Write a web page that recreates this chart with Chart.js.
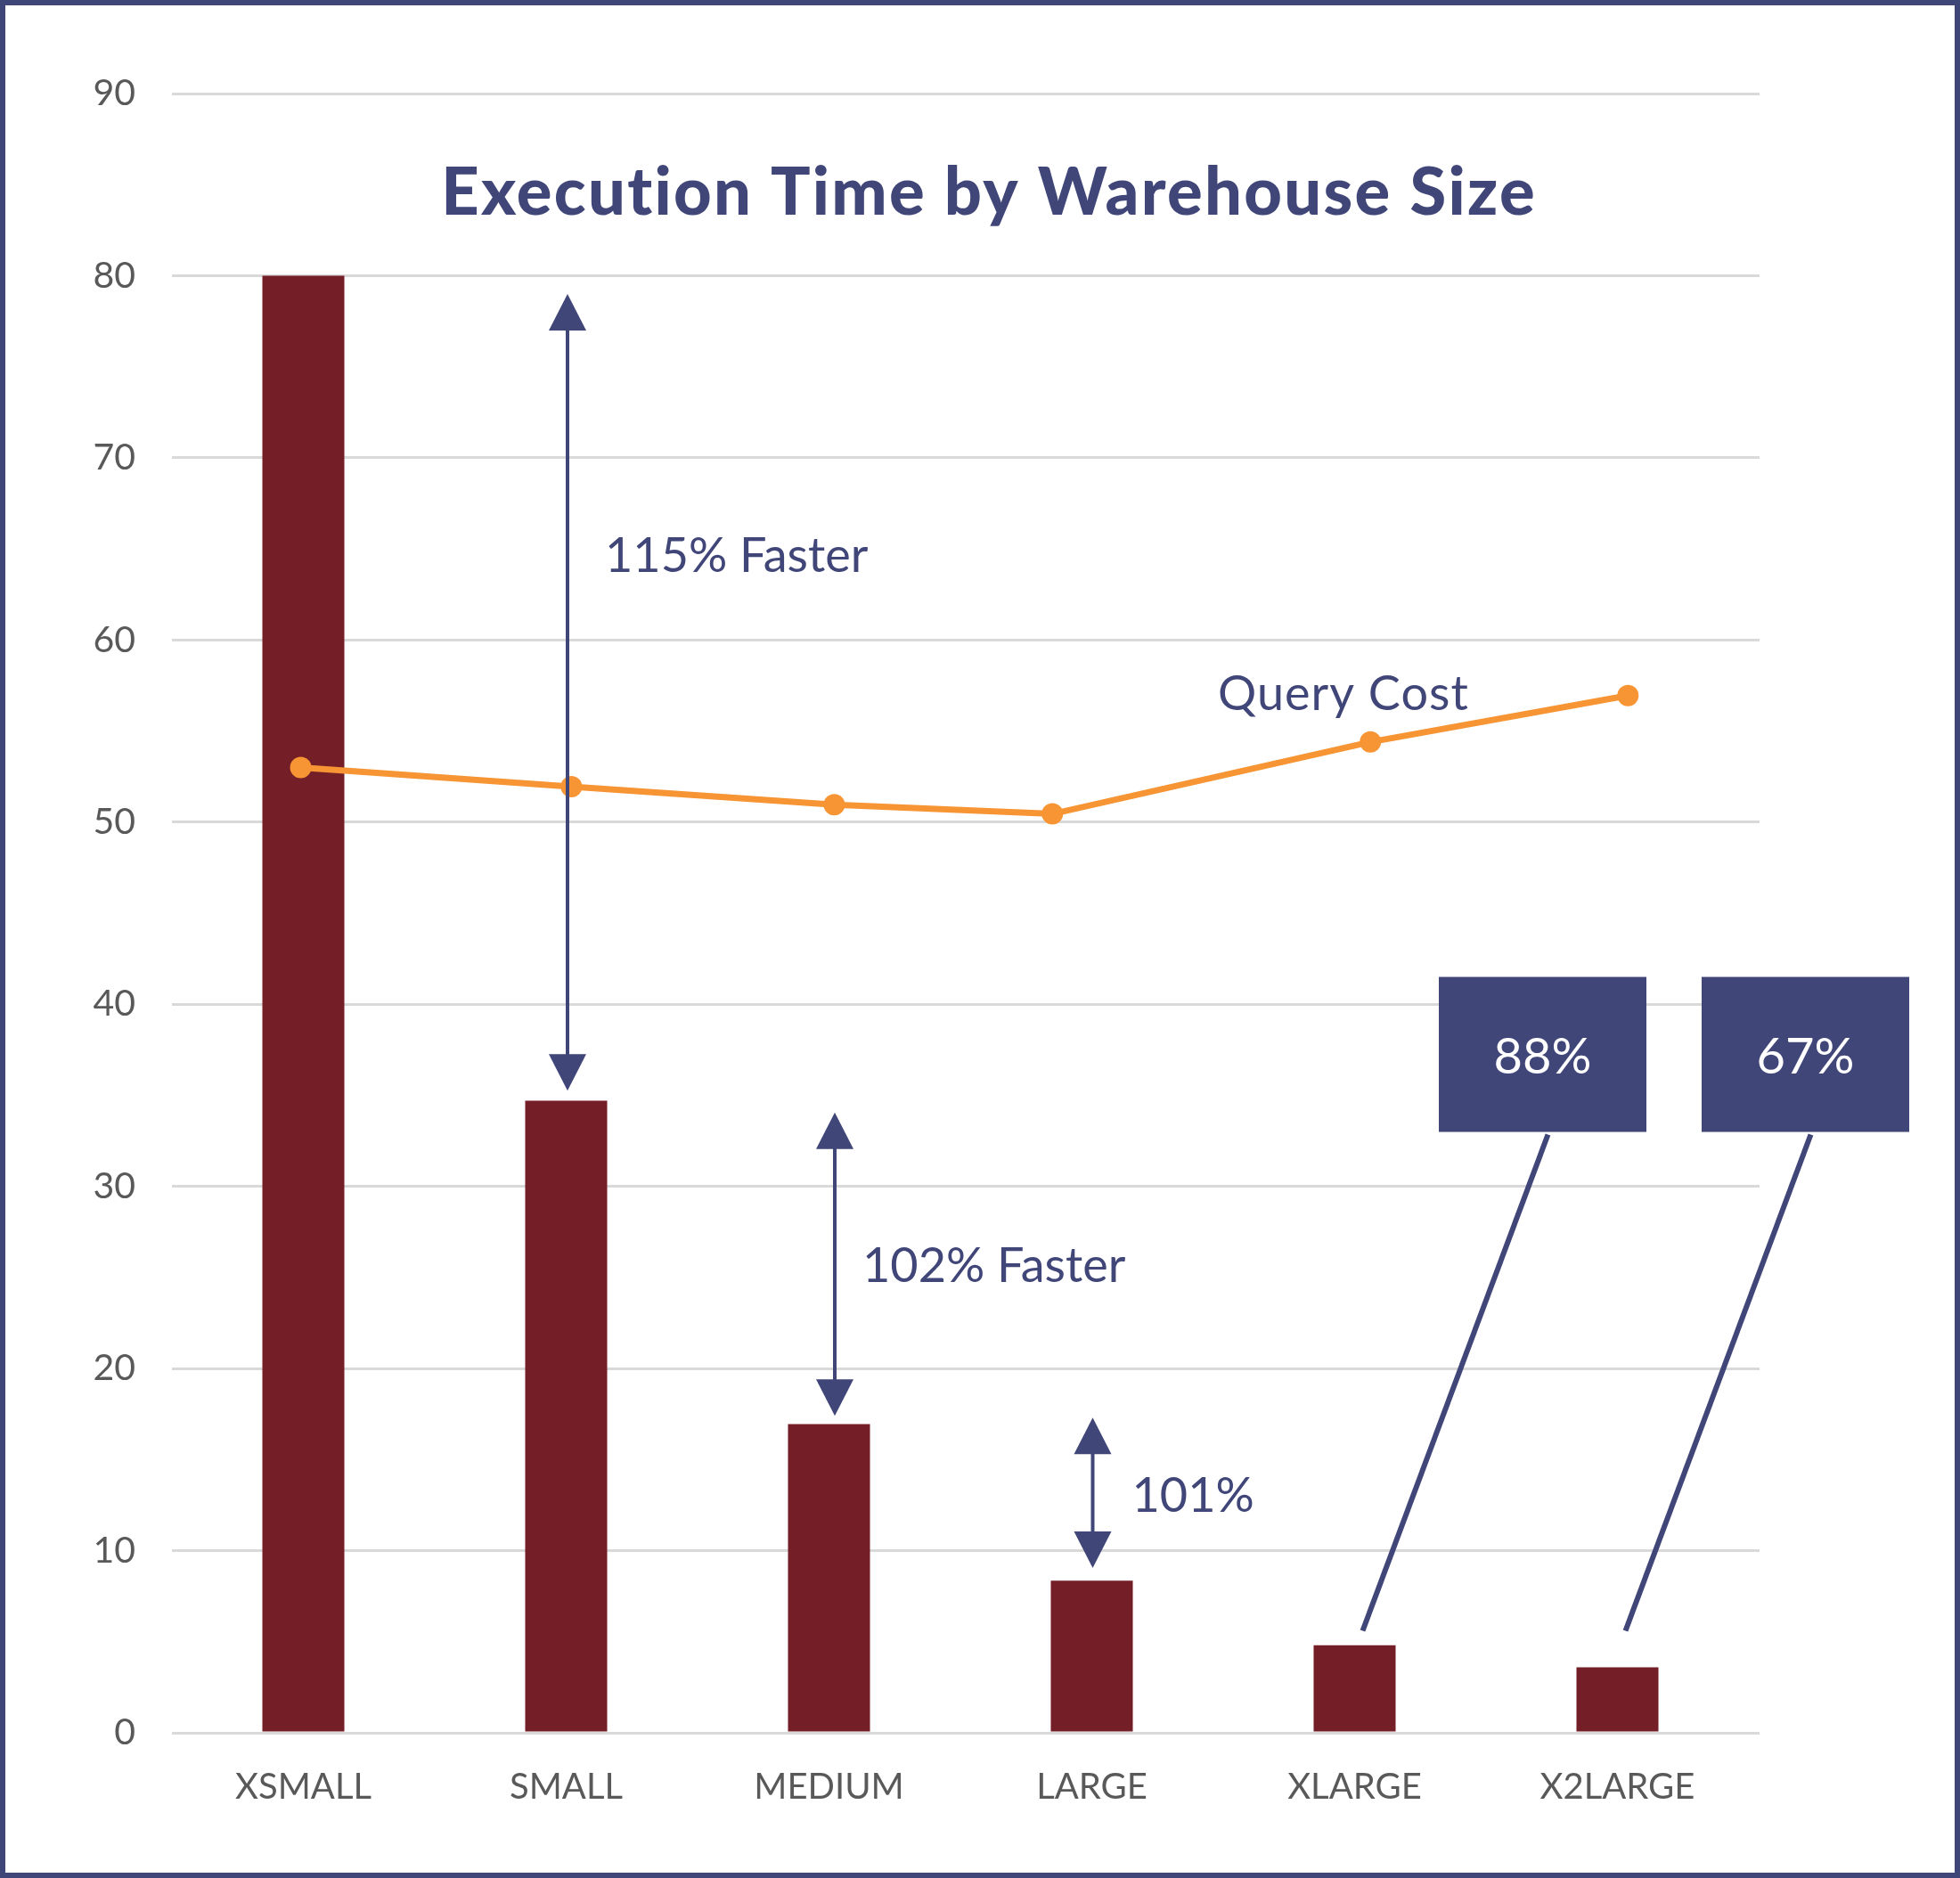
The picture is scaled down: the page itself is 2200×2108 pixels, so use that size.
<!DOCTYPE html>
<html>
<head>
<meta charset="utf-8">
<script src="https://cdn.jsdelivr.net/npm/chart.js@4.4.0/dist/chart.umd.min.js"></script>
<style>
  html, body { margin: 0; padding: 0; background: #ffffff; }
  canvas { display: block; }
</style>
</head>
<body>
<canvas id="chart" width="2200" height="2108"></canvas>
<script>
// ---------------- data ----------------
const chartTitle = 'Execution Time by Warehouse Size';
const categories = ['XSMALL', 'SMALL', 'MEDIUM', 'LARGE', 'XLARGE', 'X2LARGE'];
const executionTime = [80, 34.7, 16.95, 8.35, 4.8, 3.6];
const queryCostLabel = 'Query Cost';
const queryCost = [53.0, 51.95, 50.95, 50.45, 54.4, 56.95];
const queryCostPosition = [-0.01, 1.02, 2.02, 2.85, 4.06, 5.04];   // category units
const queryCostLabelAnchor = [3.48, 56.16];
const yTickMin = 0;
const yTickMax = 90;
const yTickStep = 10;

const speedupLabels = ['115% Faster', '102% Faster', '101%'];
const speedupCategory = [1, 2, 3];
const speedupLow = [35.25, 17.4, 9.05];
const speedupHigh = [79.0, 34.05, 17.3];
const speedupLabelValue = [63.75, 24.73, 12.13];

const calloutLabels = ['88%', '67%'];
const calloutCategory = [4, 5];
const calloutPointerValue = [5.6, 5.6];
const calloutBoxTopValue = [41.5, 41.5];

// ---------------- style ----------------
const NAVY = '#414679';
const BAR = '#741F28';
const ORANGE = '#F79433';
const GRID = '#D9D9D9';
const TICK = '#595959';
const FONT = 'Lato, "Open Sans", sans-serif';

const arrowDx = [1.5, 6.5, 1];
const arrowLabelDx = [42, 31, 44];

function alignPx(p, w) { const h = w / 2; return Math.round(p + h) - h; }

const annotationPlugin = {
  id: 'annotations',
  beforeDatasetsDraw(chart) {
    // gridlines extend slightly past the last category like the source
    const ctx = chart.ctx, y = chart.scales.y, a = chart.chartArea;
    ctx.save();
    ctx.strokeStyle = GRID;
    ctx.lineWidth = 3;
    y.ticks.forEach(t => {
      const py = alignPx(y.getPixelForValue(t.value), 3);
      ctx.beginPath();
      ctx.moveTo(a.right - 2, py);
      ctx.lineTo(a.right + 12, py);
      ctx.stroke();
    });
    ctx.restore();
  },
  afterDatasetsDraw(chart) {
    const ctx = chart.ctx;
    const x = chart.scales.x, xl = chart.scales.xl, y = chart.scales.y;
    ctx.save();

    // double arrows with labels
    const headW = 42, headH = 41;
    speedupLabels.forEach((lab, i) => {
      const px = x.getPixelForValue(speedupCategory[i]) + arrowDx[i];
      const yTop = y.getPixelForValue(speedupHigh[i]);
      const yBot = y.getPixelForValue(speedupLow[i]);
      ctx.strokeStyle = NAVY;
      ctx.fillStyle = NAVY;
      ctx.lineWidth = 4;
      ctx.beginPath();
      ctx.moveTo(px, yTop + headH - 2);
      ctx.lineTo(px, yBot - headH + 2);
      ctx.stroke();
      ctx.beginPath();
      ctx.moveTo(px, yTop);
      ctx.lineTo(px - headW / 2, yTop + headH);
      ctx.lineTo(px + headW / 2, yTop + headH);
      ctx.closePath();
      ctx.fill();
      ctx.beginPath();
      ctx.moveTo(px, yBot);
      ctx.lineTo(px - headW / 2, yBot - headH);
      ctx.lineTo(px + headW / 2, yBot - headH);
      ctx.closePath();
      ctx.fill();
      ctx.font = '400 54px ' + FONT;
      ctx.textAlign = 'left';
      ctx.textBaseline = 'alphabetic';
      ctx.fillText(lab, px + arrowLabelDx[i], y.getPixelForValue(speedupLabelValue[i]));
    });

    // series label
    ctx.font = '400 54px ' + FONT;
    ctx.fillStyle = NAVY;
    ctx.textAlign = 'left';
    if ('letterSpacing' in ctx) ctx.letterSpacing = '1px';
    ctx.fillText(queryCostLabel, xl.getPixelForValue(queryCostLabelAnchor[0]), y.getPixelForValue(queryCostLabelAnchor[1]));
    if ('letterSpacing' in ctx) ctx.letterSpacing = '0px';

    // callout boxes
    const boxW = 233, boxH = 174;
    calloutLabels.forEach((lab, i) => {
      const cx = x.getPixelForValue(calloutCategory[i]);
      const bx = cx + 211;
      const top = y.getPixelForValue(calloutBoxTopValue[i]);
      ctx.fillStyle = NAVY;
      ctx.fillRect(bx - boxW / 2, top, boxW, boxH);
      ctx.strokeStyle = NAVY;
      ctx.lineWidth = 6;
      ctx.beginPath();
      ctx.moveTo(bx + 6, top + boxH + 3);
      ctx.lineTo(cx + 9, y.getPixelForValue(calloutPointerValue[i]));
      ctx.stroke();
      ctx.fillStyle = '#ffffff';
      ctx.font = '400 56px ' + FONT;
      ctx.textAlign = 'center';
      ctx.textBaseline = 'alphabetic';
      ctx.fillText(lab, bx, top + boxH / 2 + 21);
    });
    ctx.restore();
  },
  afterDraw(chart) {
    const ctx = chart.ctx;
    ctx.save();
    ctx.fillStyle = NAVY;
    ctx.font = '900 74px ' + FONT;
    ctx.textAlign = 'center';
    ctx.textBaseline = 'alphabetic';
    if ('letterSpacing' in ctx) ctx.letterSpacing = '2.3px';
    ctx.fillText(chartTitle, 1110, 241);
    if ('letterSpacing' in ctx) ctx.letterSpacing = '0px';
    ctx.strokeStyle = NAVY;
    ctx.lineWidth = 12;
    ctx.strokeRect(0, 0, chart.width, chart.height);
    ctx.restore();
  }
};

function build() {
  const ctx = document.getElementById('chart').getContext('2d');
  new Chart(ctx, {
    data: {
      labels: categories,
      datasets: [
        {
          type: 'line',
          label: queryCostLabel,
          data: queryCost.map((v, i) => ({ x: queryCostPosition[i], y: v })),
          xAxisID: 'xl',
          borderColor: ORANGE,
          backgroundColor: ORANGE,
          borderWidth: 7,
          pointRadius: 12,
          pointHoverRadius: 12,
          pointBorderWidth: 0,
          tension: 0,
          order: 0
        },
        {
          type: 'bar',
          label: 'Execution Time',
          data: executionTime,
          xAxisID: 'x',
          backgroundColor: BAR,
          grouped: false,
          categoryPercentage: 1,
          barPercentage: 0.312,
          order: 1
        }
      ]
    },
    options: {
      responsive: false,
      devicePixelRatio: 1,
      animation: false,
      layout: { padding: { top: 105, left: 0, right: 237, bottom: 0 } },
      plugins: { legend: { display: false }, tooltip: { enabled: false }, title: { display: false } },
      scales: {
        x: {
          type: 'category',
          offset: true,
          grid: { display: false, drawTicks: false },
          border: { display: false },
          ticks: { font: { family: FONT, size: 40 }, color: TICK, padding: 37, maxRotation: 0 },
          afterFit(s) { s.height = 163; }
        },
        xl: { type: 'linear', display: false, min: -0.5, max: 5.5 },
        y: {
          min: yTickMin, max: yTickMax,
          ticks: { stepSize: yTickStep, font: { family: FONT, size: 41 }, color: TICK, padding: 41 },
          grid: { color: GRID, lineWidth: 3, drawTicks: false },
          border: { display: false },
          afterFit(s) { s.width = 193; }
        }
      }
    },
    plugins: [annotationPlugin]
  });
}

const fontLoads = ['400 41px Lato', '900 74px Lato', '400 54px Lato'].map(f => document.fonts.load(f).catch(() => null));
Promise.all(fontLoads).then(build, build);
</script>
</body>
</html>
